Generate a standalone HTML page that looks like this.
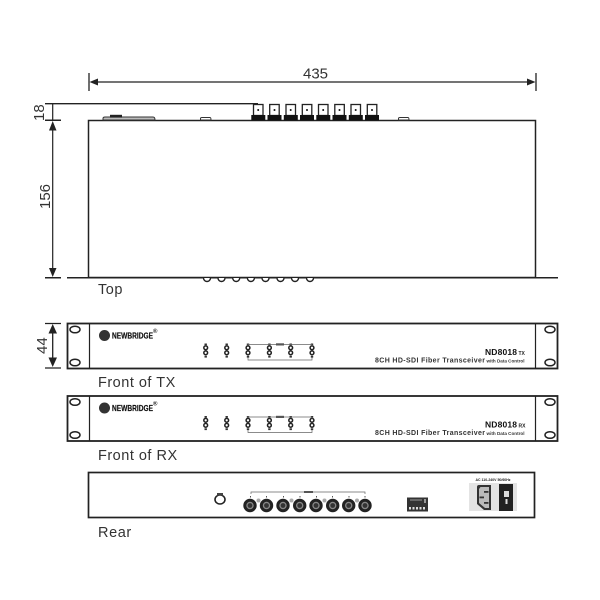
<!DOCTYPE html>
<html><head><meta charset="utf-8"><style>
html,body{margin:0;padding:0;background:#fff}
svg{display:block;filter:blur(0.35px)}
text{font-family:"Liberation Sans",sans-serif;fill:#333}
</style></head><body>
<svg width="600" height="600" viewBox="0 0 600 600" xmlns="http://www.w3.org/2000/svg">
<defs>
<g id="pair"><circle cx="0" cy="-3.2" r="1.9" fill="none" stroke="#222" stroke-width="1.5"/><circle cx="0" cy="1.8" r="1.9" fill="none" stroke="#222" stroke-width="1.5"/><rect x="-1.2" y="-7.500" width="2.400" height="1.800" fill="#333"/><rect x="-1.200" y="4.800" width="2.400" height="1.800" fill="#333"/></g>
<g id="panel">
<rect x="67.500" y="0.500" width="490" height="45" fill="#fff" stroke="#222" stroke-width="1.800"/>
<path d="M89.500 0V46M535.500 0V46" stroke="#222" stroke-width="1.200"/>
<ellipse cx="75" cy="6.500" rx="5" ry="3.300" fill="#fff" stroke="#222" stroke-width="1.500"/>
<ellipse cx="75" cy="39.500" rx="5" ry="3.300" fill="#fff" stroke="#222" stroke-width="1.500"/>
<ellipse cx="550" cy="6.500" rx="5" ry="3.300" fill="#fff" stroke="#222" stroke-width="1.500"/>
<ellipse cx="550" cy="39.500" rx="5" ry="3.300" fill="#fff" stroke="#222" stroke-width="1.500"/>
<circle cx="104.500" cy="12.500" r="5.500" fill="#333"/>
<text x="112" y="15.500" font-size="8.500" font-weight="700" textLength="41" lengthAdjust="spacingAndGlyphs" style="fill:#111;stroke:#111;stroke-width:.2">NEWBRIDGE</text>
<text x="153" y="10" font-size="6" font-weight="700" style="fill:#222">®</text>
<use href="#pair" x="205.700" y="28"/><use href="#pair" x="226.700" y="28"/><use href="#pair" x="248" y="28"/>
<use href="#pair" x="269.400" y="28"/><use href="#pair" x="290.700" y="28"/><use href="#pair" x="312" y="28"/>
<path d="M248 20.500V22M248 21.500H312M312 21.500V23M248 34.500V37H312V34.500" fill="none" stroke="#666" stroke-width="0.700"/>
<rect x="276" y="20.300" width="8" height="2.200" fill="#555"/>
<text x="375" y="39.500" font-size="7" font-weight="700" textLength="110" lengthAdjust="spacing" style="fill:#333">8CH HD-SDI Fiber Transceiver</text>
<text x="486.500" y="39.500" font-size="4.500" font-weight="700" textLength="38" lengthAdjust="spacingAndGlyphs" style="fill:#333">with Data Control</text>
</g>
</defs>

<!-- 435 dimension -->
<path d="M89 73V91M536 73V91M96 82H529" stroke="#222" stroke-width="1.300"/>
<path d="M89.500 82L98 78.500V85.500ZM535.500 82L527 78.500V85.500Z" fill="#222"/>
<text x="315.500" y="78.500" font-size="15" text-anchor="middle">435</text>

<!-- top view -->
<path d="M45 103.700H258" stroke="#222" stroke-width="1.300"/>
<path d="M45 120.300H61M45 277.700H61M67 277.700H558" stroke="#222" stroke-width="1.500"/>
<path d="M52.700 104V120M52.700 130V270" stroke="#222" stroke-width="1.200"/>
<path d="M52.700 121L49 130.500H56.500ZM52.700 277L49 268H56.500Z" fill="#222"/>
<rect x="88.500" y="120.500" width="447" height="157" fill="#fff" stroke="#222" stroke-width="1.500"/>
<path d="M103 120V118.500Q103 117 105 117H153Q155 117 155 120Z" fill="#bbb" stroke="#333" stroke-width="1"/>
<rect x="110" y="114.800" width="12" height="2.800" fill="#222"/>
<path d="M200.500 120V118.500Q200.500 117.500 202 117.500H210Q211 117.500 211 120Z" fill="#fff" stroke="#333" stroke-width="1"/>
<path d="M398.500 120V118.500Q398.500 117.500 400 117.500H408Q409 117.500 409 120Z" fill="#fff" stroke="#333" stroke-width="1"/>
<text transform="translate(44,121) rotate(-90)" font-size="15">18</text>
<text transform="translate(50,209) rotate(-90)" font-size="15">156</text>
<text transform="translate(47,354) rotate(-90)" font-size="15">44</text>

<!-- BNC top -->
<g fill="#fff" stroke="#222" stroke-width="1.300">
<rect x="253.500" y="104.500" width="9.500" height="11"/><rect x="269.700" y="104.500" width="9.500" height="11"/>
<rect x="286" y="104.500" width="9.500" height="11"/><rect x="302.300" y="104.500" width="9.500" height="11"/>
<rect x="318.500" y="104.500" width="9.500" height="11"/><rect x="334.800" y="104.500" width="9.500" height="11"/>
<rect x="351" y="104.500" width="9.500" height="11"/><rect x="367.300" y="104.500" width="9.500" height="11"/>
</g>
<g fill="#111">
<rect x="251.300" y="115" width="14" height="5.500"/><rect x="267.500" y="115" width="14" height="5.500"/>
<rect x="283.800" y="115" width="14" height="5.500"/><rect x="300" y="115" width="14" height="5.500"/>
<rect x="316.300" y="115" width="14" height="5.500"/><rect x="332.500" y="115" width="14" height="5.500"/>
<rect x="348.800" y="115" width="14" height="5.500"/><rect x="365" y="115" width="14" height="5.500"/>
<circle cx="258.200" cy="110" r="1"/><circle cx="274.500" cy="110" r="1"/><circle cx="290.700" cy="110" r="1"/><circle cx="307" cy="110" r="1"/>
<circle cx="323.200" cy="110" r="1"/><circle cx="339.500" cy="110" r="1"/><circle cx="355.700" cy="110" r="1"/><circle cx="372" cy="110" r="1"/>
</g>

<!-- bottom loops -->
<path d="M203.500 278a3.500 3.500 0 0 0 7 0M218 278a3.500 3.500 0 0 0 7 0M232.700 278a3.500 3.500 0 0 0 7 0M247.400 278a3.500 3.500 0 0 0 7 0M262 278a3.500 3.500 0 0 0 7 0M277 278a3.500 3.500 0 0 0 7 0M291.500 278a3.500 3.500 0 0 0 7 0M306.500 278a3.500 3.500 0 0 0 7 0" fill="#fff" stroke="#222" stroke-width="1.400"/>

<text x="98" y="294" font-size="14.500" letter-spacing="0.500">Top</text>

<!-- 44 dimension -->
<path d="M45 323.500H61M45 368H61M52.700 331V360" stroke="#222" stroke-width="1.300"/>
<path d="M52.700 324L48.500 333.500H57ZM52.700 367L48.500 357.500H57Z" fill="#222"/>

<!-- Front TX -->
<g transform="translate(0,323)"><use href="#panel"/>
<text x="485" y="32" font-size="8.500" font-weight="700" textLength="32" lengthAdjust="spacing" style="fill:#111">ND8018</text>
<text x="518.500" y="32" font-size="5" font-weight="700" style="fill:#222">TX</text></g>
<text x="98" y="387" font-size="14.500" letter-spacing="0.500">Front of TX</text>

<!-- Front RX -->
<g transform="translate(0,395.500)"><use href="#panel"/>
<text x="485" y="32" font-size="8.500" font-weight="700" textLength="32" lengthAdjust="spacing" style="fill:#111">ND8018</text>
<text x="518.500" y="32" font-size="5" font-weight="700" style="fill:#222">RX</text></g>
<text x="98" y="460" font-size="14.500" letter-spacing="0.500">Front of RX</text>

<!-- Rear -->
<rect x="88.500" y="472.500" width="446" height="45" fill="#fff" stroke="#222" stroke-width="1.700"/>
<ellipse cx="220" cy="499.500" rx="5" ry="4.500" fill="#fff" stroke="#222" stroke-width="1.600"/>
<rect x="217" y="493" width="6" height="2.500" fill="#444"/>
<path d="M251 494V492H365V494" fill="none" stroke="#666" stroke-width="0.700"/>
<rect x="304" y="491" width="9" height="2" fill="#555"/>
<g fill="#555">
<rect x="250" y="496" width="1" height="1.500"/><rect x="266" y="496" width="1" height="1.500"/><rect x="283" y="496" width="1" height="1.500"/><rect x="299.500" y="496" width="1" height="1.500"/>
<rect x="316" y="496" width="1" height="1.500"/><rect x="332" y="496" width="1" height="1.500"/><rect x="348.500" y="496" width="1" height="1.500"/><rect x="364.500" y="496" width="1" height="1.500"/>
</g>
<g fill="#aaa"><circle cx="258.500" cy="500.500" r="2"/><circle cx="291.500" cy="500.500" r="2"/><circle cx="324.500" cy="500.500" r="2"/><circle cx="357" cy="500.500" r="2"/></g>
<g fill="#888" stroke="#222" stroke-width="3">
<circle cx="250" cy="505.500" r="5.200"/><circle cx="266.500" cy="505.500" r="5.200"/><circle cx="283" cy="505.500" r="5.200"/><circle cx="299.700" cy="505.500" r="5.200"/>
<circle cx="316" cy="505.500" r="5.200"/><circle cx="332.700" cy="505.500" r="5.200"/><circle cx="348.700" cy="505.500" r="5.200"/><circle cx="365" cy="505.500" r="5.200"/>
</g>
<g fill="#333">
<circle cx="250" cy="505.500" r="2.400"/><circle cx="266.500" cy="505.500" r="2.400"/><circle cx="283" cy="505.500" r="2.400"/><circle cx="299.700" cy="505.500" r="2.400"/>
<circle cx="316" cy="505.500" r="2.400"/><circle cx="332.700" cy="505.500" r="2.400"/><circle cx="348.700" cy="505.500" r="2.400"/><circle cx="365" cy="505.500" r="2.400"/>
</g>
<!-- terminal block -->
<rect x="407" y="497.500" width="21" height="14" fill="#333"/>
<g fill="#ddd">
<rect x="409" y="507" width="2" height="2.500"/><rect x="412.500" y="507" width="2" height="2.500"/><rect x="416" y="507" width="2" height="2.500"/><rect x="419.500" y="507" width="2" height="2.500"/><rect x="423" y="507" width="2" height="2.500"/>
<rect x="410" y="499.500" width="12" height="1" fill="#999"/><rect x="424" y="499" width="2" height="4" fill="#999"/>
</g>
<!-- power -->
<rect x="469" y="483" width="48" height="28" fill="#e4e4e4"/>
<text x="493" y="481" font-size="3.500" font-weight="700" text-anchor="middle" style="fill:#222">AC 110-240V 50/60Hz</text>
<path d="M479 485H491V510H484L477 504V487Q477 485 479 485Z" fill="#333"/>
<path d="M480.500 487H489V508H485L479 503V489Z" fill="#bbb"/>
<g fill="#333"><rect x="484" y="491" width="4.500" height="1.800"/><rect x="479.500" y="496.500" width="4.500" height="1.800"/><rect x="484" y="502" width="4.500" height="1.800"/></g>
<rect x="499" y="484" width="14" height="27" fill="#222"/>
<rect x="504" y="491" width="5" height="6" fill="#ddd"/>
<rect x="505.500" y="499" width="2" height="5" fill="#ddd"/>

<text x="98" y="537" font-size="14.500" letter-spacing="0.600">Rear</text>
</svg>
</body></html>
